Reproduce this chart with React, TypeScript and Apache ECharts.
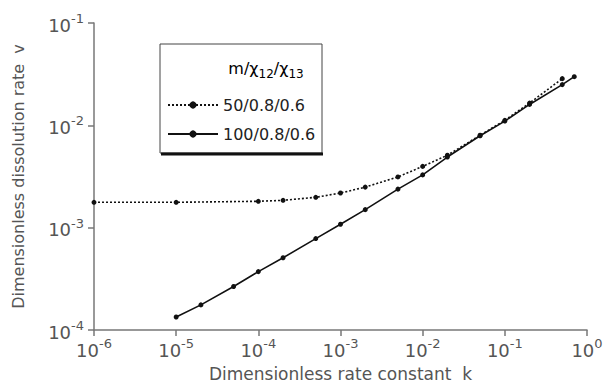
import React, { useEffect, useRef } from "react";
import * as echarts from "echarts";

const kDotted = [1e-6, 1e-5, 1e-4, 2e-4, 5e-4, 1e-3, 2e-3, 5e-3, 1e-2, 2e-2, 5e-2, 1e-1, 2e-1, 5e-1];
const vDotted = [1.77e-3, 1.77e-3, 1.81e-3, 1.85e-3, 1.98e-3, 2.18e-3, 2.49e-3, 3.13e-3, 3.97e-3, 5.1e-3, 8.0e-3, 1.12e-2, 1.65e-2, 2.86e-2];

const kSolid = [1e-5, 2e-5, 5e-5, 1e-4, 2e-4, 5e-4, 1e-3, 2e-3, 5e-3, 1e-2, 2e-2, 5e-2, 1e-1, 2e-1, 5e-1, 7e-1];
const vSolid = [1.34e-4, 1.76e-4, 2.66e-4, 3.72e-4, 5.08e-4, 7.82e-4, 1.08e-3, 1.5e-3, 2.38e-3, 3.28e-3, 4.9e-3, 7.91e-3, 1.1e-2, 1.6e-2, 2.5e-2, 2.99e-2];

const seriesNames = ["50/0.8/0.6", "100/0.8/0.6"];
const xName = "Dimensionless rate constant  k";
const yName = "Dimensionless dissolution rate  v";

const FONT = "DejaVu Sans";
const TXT = "#555";
const AX = "#777";

const expLabel = (v: number) => {
  const e = Math.round(Math.log10(v));
  return `{a|10}{b|${e}}`;
};
const richLabel = {
  a: { fontSize: 18, fontFamily: FONT, color: TXT, lineHeight: 22, verticalAlign: "bottom" },
  b: { fontSize: 13, fontFamily: FONT, color: TXT, lineHeight: 14, verticalAlign: "top" },
};

export default function App() {
  const ref = useRef<HTMLDivElement>(null);
  useEffect(() => {
    if (!ref.current) return;
    const chart = echarts.init(ref.current, undefined, { renderer: "svg" });
    chart.setOption({
      animation: false,
      backgroundColor: "#fff",
      grid: { left: 94, right: 19, top: 23, bottom: 54, containLabel: false },
      xAxis: {
        type: "log",
        logBase: 10,
        min: 1e-6,
        max: 1,
        name: xName,
        nameLocation: "middle",
        nameGap: 35,
        nameTextStyle: { fontFamily: FONT, fontSize: 17, color: TXT },
        axisLine: { show: true, lineStyle: { color: AX, width: 1.5 } },
        axisTick: { show: true, length: 6, lineStyle: { color: AX, width: 1.5 } },
        minorTick: { show: false },
        splitLine: { show: false },
        axisLabel: { formatter: expLabel, rich: richLabel, margin: 7 },
      },
      yAxis: {
        type: "log",
        logBase: 10,
        min: 1e-4,
        max: 1e-1,
        name: yName,
        nameLocation: "middle",
        nameGap: 68,
        nameTextStyle: { fontFamily: FONT, fontSize: 16, color: TXT },
        axisLine: { show: true, lineStyle: { color: AX, width: 1.5 } },
        axisTick: { show: true, length: 6, lineStyle: { color: AX, width: 1.5 } },
        splitLine: { show: false },
        axisLabel: { formatter: expLabel, rich: richLabel, margin: 10 },
      },
      legend: {
        left: 162,
        top: 90,
        orient: "vertical",
        itemWidth: 50,
        itemHeight: 9,
        itemGap: 9,
        data: seriesNames,
        textStyle: { fontFamily: FONT, fontSize: 16, color: "#222", lineHeight: 20 },
      },
      graphic: [
        {
          type: "rect",
          shape: { x: 160, y: 44, width: 162, height: 109 },
          style: { fill: "#fff", stroke: "#444", lineWidth: 1 },
          z: 1,
        },
        {
          type: "line",
          shape: { x1: 161, y1: 154, x2: 323, y2: 154 },
          style: { stroke: "#111", lineWidth: 3 },
          z: 1,
        },
        {
          type: "text",
          x: 266,
          y: 70,
          style: {
            text: "{n|m/χ}{s|12}{n|/χ}{s|13}",
            align: "center",
            verticalAlign: "middle",
            rich: {
              n: { fontFamily: FONT, fontSize: 16, color: "#222", lineHeight: 20, verticalAlign: "top" },
              s: { fontFamily: FONT, fontSize: 12, color: "#222", lineHeight: 12, verticalAlign: "bottom" },
            },
          },
          z: 2,
        },
      ],
      series: [
        {
          name: seriesNames[0],
          type: "line",
          data: kDotted.map((k, i) => [k, vDotted[i]]),
          symbol: "circle",
          symbolSize: 5,
          itemStyle: { color: "#111" },
          lineStyle: { color: "#111", width: 1.6, type: [2, 2] },
          z: 5,
        },
        {
          name: seriesNames[1],
          type: "line",
          data: kSolid.map((k, i) => [k, vSolid[i]]),
          symbol: "circle",
          symbolSize: 5,
          itemStyle: { color: "#111" },
          lineStyle: { color: "#111", width: 1.6, type: "solid" },
          z: 5,
        },
      ],
    });
    return () => chart.dispose();
  }, []);
  return (
    <div
      ref={ref}
      style={{ position: "fixed", left: 0, top: 0, width: 606, height: 387 }}
    />
  );
}
